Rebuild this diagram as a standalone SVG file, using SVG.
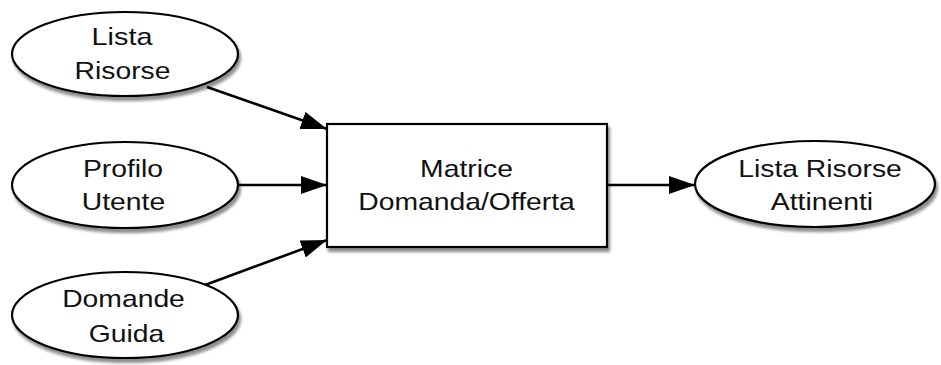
<svg xmlns="http://www.w3.org/2000/svg" width="941" height="365" viewBox="0 0 941 365">
<defs>
<filter id="sh" x="-10%" y="-10%" width="125%" height="140%">
<feGaussianBlur in="SourceAlpha" stdDeviation="1.5"/>
<feOffset dx="2" dy="4" result="b"/>
<feComponentTransfer><feFuncA type="linear" slope="0.45"/></feComponentTransfer>
<feMerge><feMergeNode/><feMergeNode in="SourceGraphic"/></feMerge>
</filter>
<marker id="arr" viewBox="0 0 26 18" refX="26" refY="9" markerWidth="26" markerHeight="18" orient="auto" markerUnits="userSpaceOnUse">
<path d="M0,0 L26,9 L0,18 Z" fill="#000"/>
</marker>
</defs>
<style>
.shape{fill:#fff;stroke:#000;stroke-width:2.2;filter:url(#sh)}
.t{font-family:"Liberation Sans",Arial,Helvetica,sans-serif;font-size:24px;fill:#111;text-anchor:middle}
.c{stroke:#000;stroke-width:2.6;fill:none;marker-end:url(#arr)}
</style>
<rect width="941" height="365" fill="#fff"/>
<g id="connectors">
<line class="c" x1="207" y1="87" x2="327" y2="129"/>
<line class="c" x1="239" y1="185" x2="327" y2="185"/>
<line class="c" x1="205" y1="285" x2="327" y2="240"/>
<line class="c" x1="607" y1="185" x2="695" y2="185"/>
</g>
<g id="lista-risorse">
<ellipse class="shape" cx="125" cy="54" rx="113" ry="42"/>
<text class="t" transform="translate(122,45) scale(1.2,1)">Lista</text>
<text class="t" transform="translate(122.5,79) scale(1.18,1)">Risorse</text>
</g>
<g id="profilo-utente">
<ellipse class="shape" cx="125" cy="185" rx="113" ry="43"/>
<text class="t" transform="translate(123,177) scale(1.18,1)">Profilo</text>
<text class="t" transform="translate(123.5,210) scale(1.18,1)">Utente</text>
</g>
<g id="domande-guida">
<ellipse class="shape" cx="125" cy="315" rx="113" ry="43"/>
<text class="t" transform="translate(123.5,307) scale(1.18,1)">Domande</text>
<text class="t" transform="translate(126.5,342) scale(1.18,1)">Guida</text>
</g>
<g id="matrice">
<rect class="shape" x="327" y="124" width="280" height="123"/>
<text class="t" transform="translate(466.5,177) scale(1.18,1)">Matrice</text>
<text class="t" transform="translate(466.5,210) scale(1.18,1)">Domanda/Offerta</text>
</g>
<g id="lista-risorse-attinenti">
<ellipse class="shape" cx="815" cy="184" rx="120" ry="43"/>
<text class="t" transform="translate(820,177) scale(1.18,1)">Lista Risorse</text>
<text class="t" transform="translate(822,210) scale(1.18,1)">Attinenti</text>
</g>
</svg>
